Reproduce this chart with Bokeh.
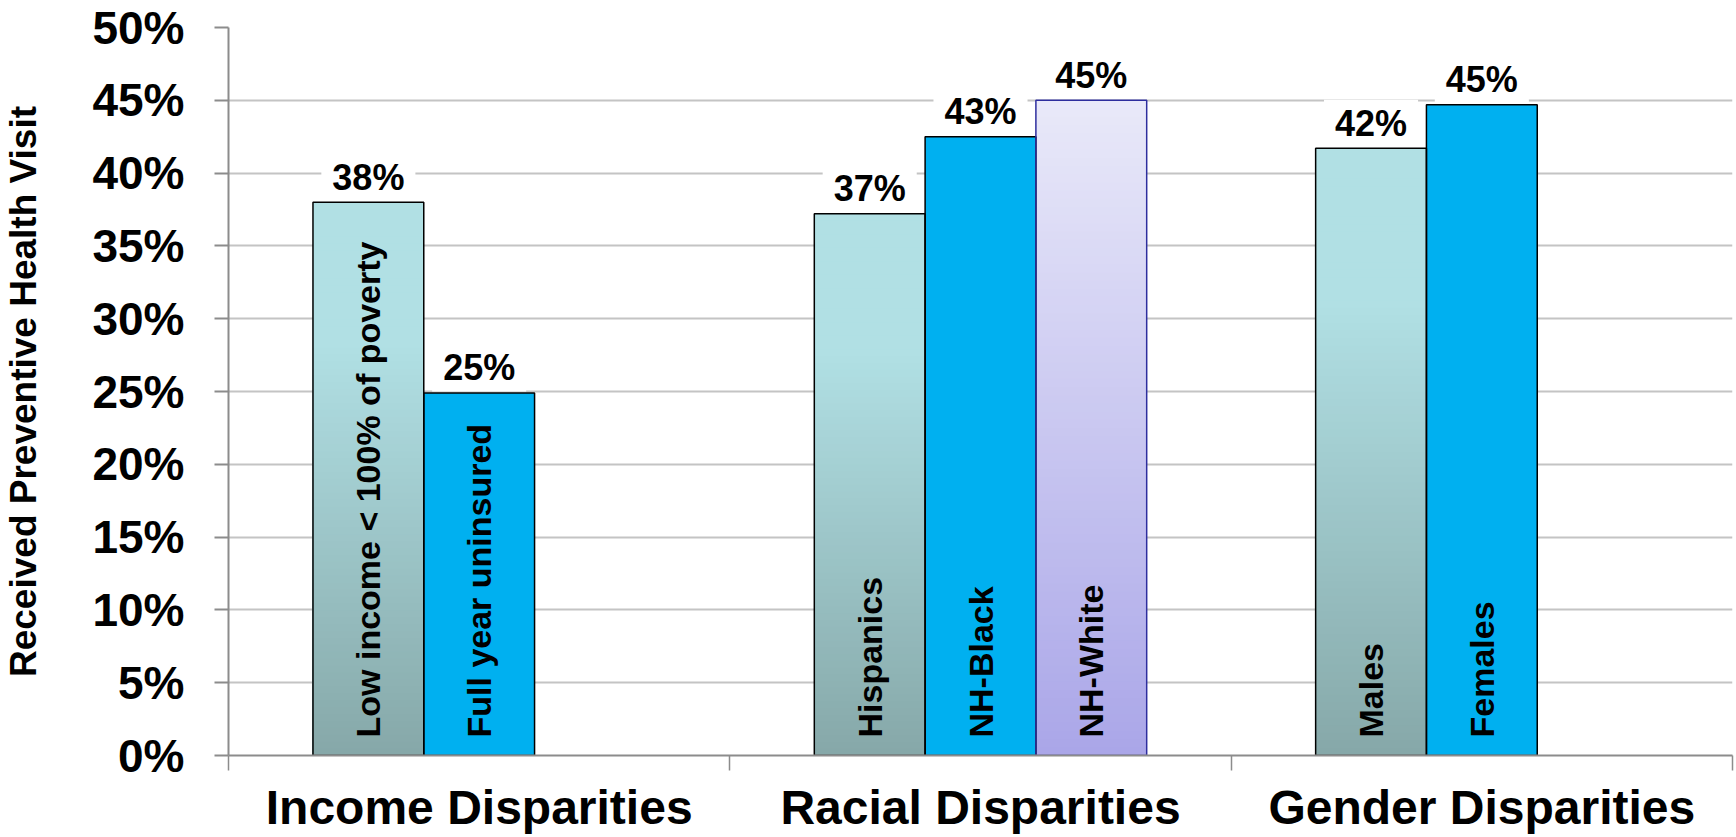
import math
from bokeh.plotting import figure
from bokeh.models import Range1d, FixedTicker
from bokeh.core.properties import value
from bokeh.embed import file_html
from bokeh.resources import INLINE

# ---------------- data ----------------
groups = ["Income Disparities", "Racial Disparities", "Gender Disparities"]
bar_names = ["Low income < 100% of poverty", "Full year uninsured",
             "Hispanics", "NH-Black", "NH-White",
             "Males", "Females"]
bar_group = [0, 0, 1, 1, 1, 2, 2]
bar_slot = [0, 1, 0, 1, 2, 0, 1]
bar_values = [38.0, 24.9, 37.2, 42.5, 45.0, 41.7, 44.7]
value_labels = ["38%", "25%", "37%", "43%", "45%", "42%", "45%"]
bar_series = ["teal", "blue", "teal", "blue", "lavender", "teal", "blue"]
y_ticks = [0, 5, 10, 15, 20, 25, 30, 35, 40, 45, 50]
y_tick_labels = ["0%", "5%", "10%", "15%", "20%", "25%", "30%", "35%", "40%", "45%", "50%"]
y_title = "Received Preventive Health Visit"

# ---------------- style ----------------
FONT = value("Liberation Sans")
BW = 0.221
TEAL_BOTTOM, TEAL_TOP = "#86a8a9", "#b1e0e4"
LAV_BOTTOM, LAV_TOP = "#aaa6e8", "#e9e9f9"
BLUE = "#00b0f0"
AXIS_GREY = "#8c8c8c"
GRID_GREY = "#c4c4c4"


def hex_to_rgb(h):
    h = h.lstrip("#")
    return tuple(int(h[i:i + 2], 16) for i in (0, 2, 4))


def lerp(c0, c1, t):
    a, b = hex_to_rgb(c0), hex_to_rgb(c1)
    return "#%02x%02x%02x" % tuple(int(round(a[i] + (b[i] - a[i]) * t)) for i in range(3))


bar_x = [g + 0.5 + (s - 1) * BW for g, s in zip(bar_group, bar_slot)]

p = figure(width=1736, height=837, output_backend="svg", toolbar_location=None,
           x_range=Range1d(0, 3), y_range=Range1d(0, 50),
           min_border_left=227, min_border_right=4, min_border_top=27, min_border_bottom=82)
p.outline_line_color = None
p.background_fill_color = "white"
p.border_fill_color = "white"
p.xgrid.grid_line_color = None
p.ygrid.grid_line_color = GRID_GREY
p.ygrid.grid_line_width = 2

# gradient bars built from stacked, shrinking slices
N = 80
gx, gtop, gcol = [], [], []
for x, v, s in zip(bar_x, bar_values, bar_series):
    if s == "blue":
        continue
    for k in range(N, 0, -1):
        t = (k - 0.5) / N
        if s == "teal":
            col = lerp(TEAL_BOTTOM, TEAL_TOP, min(1.0, t / 0.75))
        else:
            col = lerp(LAV_BOTTOM, LAV_TOP, t)
        gx.append(x)
        gtop.append(v * k / N)
        gcol.append(col)
p.vbar(x=gx, top=gtop, bottom=0, width=BW, fill_color=gcol, line_color=None)

bx = [x for x, s in zip(bar_x, bar_series) if s == "blue"]
bt = [v for v, s in zip(bar_values, bar_series) if s == "blue"]
p.vbar(x=bx, top=bt, bottom=0, width=BW, fill_color=BLUE, line_color=None)

outline = ["#2e2e9e" if s == "lavender" else "black" for s in bar_series]
p.vbar(x=bar_x, top=bar_values, bottom=0, width=BW, fill_color=None,
       line_color=outline, line_width=1.5)

# names inside bars
p.text(x=bar_x, y=[0] * len(bar_x), text=bar_names, angle=math.pi / 2,
       text_align="left", text_baseline="middle", y_offset=-18,
       text_font=FONT, text_font_style="bold", text_font_size="34px", text_color="black")

# value labels
p.text(x=bar_x, y=bar_values, text=value_labels, text_align="center",
       text_baseline="alphabetic", y_offset=-25,
       text_font=FONT, text_font_style="bold", text_font_size="36px", text_color="black",
       background_fill_color="white", padding=dict(left=11, right=11, top=3, bottom=3))

# y axis
ya = p.yaxis[0]
ya.ticker = FixedTicker(ticks=y_ticks)
ya.major_label_overrides = {t: l for t, l in zip(y_ticks, y_tick_labels)}
ya.major_label_text_font = "Liberation Sans"
ya.major_label_text_font_style = "bold"
ya.major_label_text_font_size = "46px"
ya.major_label_text_color = "black"
ya.major_label_standoff = 30
ya.major_tick_out = 14
ya.major_tick_in = 0
ya.minor_tick_out = 0
ya.minor_tick_in = 0
ya.axis_line_color = AXIS_GREY
ya.axis_line_width = 2
ya.major_tick_line_color = AXIS_GREY
ya.major_tick_line_width = 2
ya.axis_label = y_title
ya.axis_label_text_font = "Liberation Sans"
ya.axis_label_text_font_style = "bold"
ya.axis_label_text_font_size = "37px"
ya.axis_label_text_color = "black"
ya.axis_label_standoff = 45

# x axis
xa = p.xaxis[0]
centers = [i + 0.5 for i in range(len(groups))]
xa.ticker = FixedTicker(ticks=centers, minor_ticks=list(range(len(groups) + 1)))
xa.major_label_overrides = {c: g for c, g in zip(centers, groups)}
xa.major_label_text_font = "Liberation Sans"
xa.major_label_text_font_style = "bold"
xa.major_label_text_font_size = "48px"
xa.major_label_text_color = "black"
xa.major_label_standoff = 10
xa.major_tick_out = 0
xa.major_tick_in = 0
xa.minor_tick_out = 15
xa.minor_tick_in = 0
xa.minor_tick_line_color = AXIS_GREY
xa.minor_tick_line_width = 1.5
xa.axis_line_color = AXIS_GREY
xa.axis_line_width = 2

open("out.html", "w").write(file_html(p, INLINE))
